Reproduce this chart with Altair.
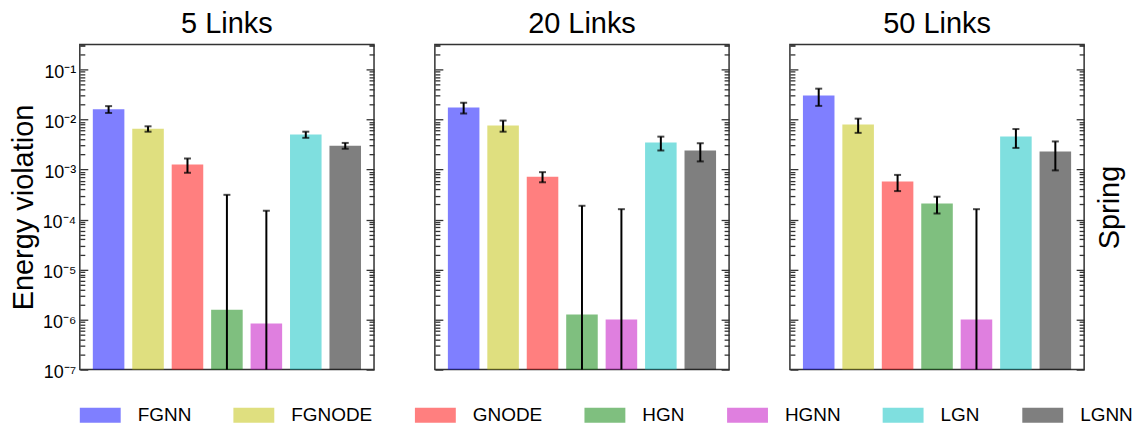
import altair as alt
import pandas as pd

models = ["FGNN", "FGNODE", "GNODE", "HGN", "HGNN", "LGN", "LGNN"]
colors = ["#0000ff", "#bfbf00", "#ff0000", "#008000", "#bf00bf", "#00bfbf", "#000000"]
panel_titles = ["5 Links", "20 Links", "50 Links"]

vals_5 = [0.016, 0.0065, 0.00126, 1.58e-6, 8.3e-7, 0.0050, 0.0030]
errs_5 = [0.0025, 0.0008, 0.0004, 3.1e-4, 1.49e-4, 0.0007, 0.0004]
vals_20 = [0.0174, 0.0076, 7.2e-4, 1.26e-6, 1.0e-6, 0.00347, 0.0024]
errs_20 = [0.0043, 0.0019, 1.65e-4, 1.87e-4, 1.6e-4, 0.00107, 0.00095]
vals_50 = [0.030, 0.0079, 5.75e-4, 2.09e-4, 1.0e-6, 0.00457, 0.0023]
errs_50 = [0.0113, 0.0025, 2.05e-4, 7.7e-5, 1.6e-4, 0.00187, 0.00134]

vals = [vals_5, vals_20, vals_50]
errs = [errs_5, errs_20, errs_50]

y_min = 1e-7
y_max = 0.316
major_ticks = [1e-7, 1e-6, 1e-5, 1e-4, 1e-3, 1e-2, 1e-1]
minor_ticks = [m * 10.0 ** e for e in range(-7, 0) for m in range(2, 10)] + [0.2, 0.3]
sup_digits = ["⁰", "¹", "²", "³", "⁴", "⁵", "⁶", "⁷", "⁸", "⁹"]

FONT = "Liberation Sans"
TICK = "#333333"

label_expr = (
    "'10⁻' + [" + ",".join("'" + d + "'" for d in sup_digits) + "][-round(log(datum.value)/LN10)]"
)


def left_major(first):
    kw = dict(orient="left", values=major_ticks, tickSize=8, offset=-8, domain=False,
              grid=False, tickColor=TICK, tickWidth=1.3)
    if first:
        kw.update(labels=True, labelExpr=label_expr, labelFontSize=18, labelFont=FONT,
                  labelColor="black", labelPadding=4, labelOffset=3,
                  title="Energy violation",
                  titleFontSize=29, titleFont=FONT, titleFontWeight="normal",
                  titleColor="black", titlePadding=4)
    else:
        kw.update(labels=False, title=None)
    return alt.Axis(**kw)


def left_minor():
    return alt.Axis(orient="left", values=minor_ticks, tickSize=5, offset=-5, domain=False,
                    grid=False, tickColor=TICK, tickWidth=1.3, labels=False, title=None)


def right_major(last):
    kw = dict(orient="right", values=major_ticks, tickSize=8, offset=-8, domain=False,
              grid=False, tickColor=TICK, tickWidth=1.3, labels=False)
    if last:
        kw.update(title="Spring", titleAngle=270, titleBaseline="top", titleFontSize=29,
                  titleFont=FONT, titleFontWeight="normal", titleColor="black",
                  titlePadding=11)
    else:
        kw.update(title=None)
    return alt.Axis(**kw)


def right_minor():
    return alt.Axis(orient="right", values=minor_ticks, tickSize=5, offset=-5, domain=False,
                    grid=False, tickColor=TICK, tickWidth=1.3, labels=False, title=None)


def panel(i):
    df = pd.DataFrame({"model": models, "value": vals[i], "err": errs[i]})
    df["hi"] = df["value"] + df["err"]
    df["has_lo"] = (df["value"] - df["err"]) > 0
    df["lo"] = (df["value"] - df["err"]).clip(lower=y_min)
    base = alt.Chart(df)
    yscale = alt.Scale(type="log", domain=[y_min, y_max], nice=False)
    x = alt.X("model:N", sort=models, axis=None,
              scale=alt.Scale(paddingInner=0.2, paddingOuter=0.33))
    color = alt.Color(
        "model:N", sort=models,
        scale=alt.Scale(domain=models, range=colors),
        legend=alt.Legend(orient="bottom", direction="horizontal", columns=7, title=None,
                          symbolType="M-1,-0.366H1V0.366H-1Z", symbolSize=1681,
                          labelFontSize=19, labelFont=FONT, labelColor="black",
                          labelOffset=17, columnPadding=42, offset=12,
                          symbolStrokeWidth=0),
    )
    bars = base.mark_bar(opacity=0.5).encode(
        x=x,
        y=alt.Y("value:Q", scale=yscale, stack=None, axis=left_major(i == 0)),
        color=color,
    )
    rules = base.mark_rule(color="black", strokeWidth=2).encode(
        x=x,
        y=alt.Y("lo:Q", scale=yscale, axis=left_minor()),
        y2="hi:Q",
    )
    caps_hi = base.mark_tick(color="black", thickness=2, size=7).encode(
        x=x,
        y=alt.Y("hi:Q", scale=yscale, axis=right_major(i == 2)),
    )
    caps_lo = base.transform_filter("datum.has_lo").mark_tick(
        color="black", thickness=2, size=7
    ).encode(
        x=x,
        y=alt.Y("lo:Q", scale=yscale, axis=right_minor()),
    )
    return alt.layer(bars, rules, caps_hi, caps_lo).resolve_scale(y="shared").resolve_axis(
        y="independent"
    ).properties(width=295, height=326, title=panel_titles[i])


chart = alt.hconcat(panel(0), panel(1), panel(2), spacing=57).properties(
    padding={"left": 0, "top": 1, "right": 0, "bottom": 0}
).configure_view(stroke="#333333", strokeWidth=1.5).configure_title(
    fontSize=29, font=FONT, fontWeight="normal", color="black", offset=5, anchor="middle"
)

chart.save("out.html", embed_options={"renderer": "svg", "actions": False})
